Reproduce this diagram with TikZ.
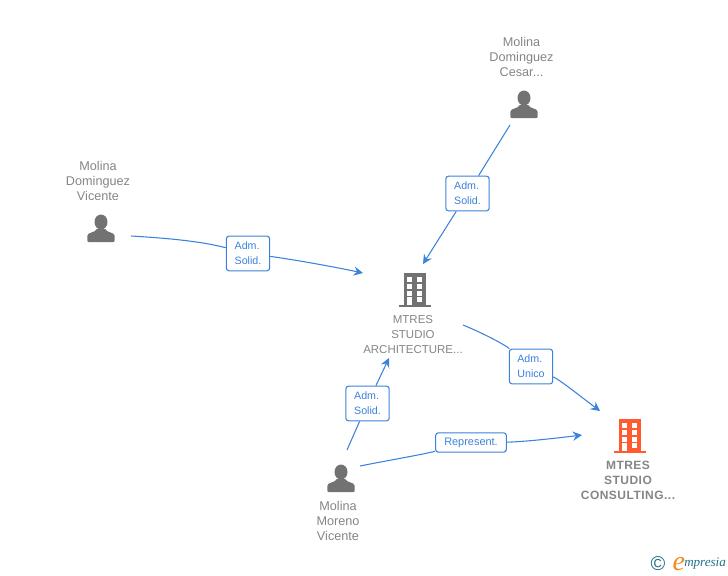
\documentclass[tikz,border=0pt]{standalone}
\usepackage{fontspec}
\setmainfont{Liberation Sans}
\newfontfamily\trackedfont[LetterSpace=4]{Liberation Sans}
\newfontfamily\logofont{Liberation Serif}
\usetikzlibrary{positioning,arrows.meta}
\definecolor{linkBlue}{HTML}{3B82DC}
\definecolor{labelGrey}{HTML}{858585}
\definecolor{iconGrey}{HTML}{727272}
\definecolor{mainOrange}{HTML}{FF5B2E}
\definecolor{logoTeal}{HTML}{1F6F86}
\definecolor{logoOrange}{HTML}{F28A1E}
\tikzset{
    nameLabel/.style={text=labelGrey, align=center, inner sep=0pt, font=\fontsize{9.5}{11.25}\selectfont},
    mainLabel/.style={text=labelGrey, align=center, inner sep=0pt, font=\trackedfont\bfseries\fontsize{9}{11.25}\selectfont},
    roleBox/.style={draw=linkBlue, fill=white, text=linkBlue, rounded corners=2pt, line width=0.8pt, align=left,
        inner sep=0pt, minimum height=26pt, minimum width=32.5pt, font=\fontsize{8}{11.25}\selectfont},
    wideBox/.style={roleBox, minimum height=14.5pt, minimum width=53pt},
    link/.style={draw=linkBlue, line width=0.8pt},
    linkArrow/.style={link, -{Stealth[length=7pt,width=7pt,inset=2.5pt]}},
    personIcon/.pic={
        \fill[iconGrey] (0,-6) ellipse [x radius=6.5, y radius=7.5];
        \fill[iconGrey] (-13.7,12) -- (-13.7,8) .. controls (-13.7,4) and (-6,5) .. (-4,1)
            -- (4,1) .. controls (6,5) and (13.7,4) .. (13.7,8) -- (13.7,12)
            .. controls (13.7,14) and (13,14) .. (12,14) -- (-12,14) .. controls (-13,14) and (-13.7,14) .. (-13.7,12) -- cycle;
    },
    buildingIcon/.pic={
        \path[pic actions] (-11,-17) rectangle (11,15);
        \path[pic actions] (-16,15) rectangle (16,17);
        \foreach \rowTop in {-13.3,-6,0.7,6.7} {
            \fill[white] (2.3,\rowTop) rectangle +(5,4.8);
        }
        \foreach \rowTop in {-13.3,-6,0.7} {
            \fill[white] (-7.7,\rowTop) rectangle +(5,4.8);
        }
        \fill[white] (-7.7,6.7) rectangle (-2.7,15);
    },
}

\begin{document}
\begin{tikzpicture}[x=0.75pt, y=-0.75pt]
    \useasboundingbox (0,0) rectangle (728,575);
    % companies
    \node[nameLabel, font=\fontsize{8.6}{11.25}\selectfont] (architectureName) at (413,335) {MTRES\\STUDIO\\ARCHITECTURE...};
    \node[mainLabel] (consultingName) at (628,480) {MTRES\\STUDIO\\CONSULTING...};
    \pic[fill=iconGrey] at (415,290) {buildingIcon};
    \pic[fill=mainOrange] at (630,436) {buildingIcon};
    % people
    \node[nameLabel] (vicenteName) at (98,181) {Molina\\Dominguez\\Vicente};
    \node[nameLabel] (cesarName) at (521.5,57) {Molina\\Dominguez\\Cesar...};
    \node[nameLabel] (morenoName) at (338,521) {Molina\\Moreno\\Vicente};
    \pic at (101,228) {personIcon};
    \pic at (524,104) {personIcon};
    \pic at (341,478) {personIcon};
    % free ends of the links
    \coordinate (vicenteOut) at (131,236);
    \coordinate (cesarOut) at (510,125);
    \coordinate (morenoUp) at (347,450);
    \coordinate (morenoRight) at (360,466);
    \coordinate (architectureOut) at (463,325);
    \coordinate (architectureLeft) at (363,273);
    \coordinate (architectureTop) at (423,264);
    \coordinate (architectureBottom) at (389,358);
    \coordinate (consultingTop) at (600,411);
    \coordinate (consultingLeft) at (582,435);
    % role boxes
    \node[roleBox] (vicenteRole) at (248,253.5) {Adm.\\Solid.};
    \node[roleBox] (cesarRole) at (467.5,193.5) {Adm.\\Solid.};
    \node[roleBox] (morenoRole) at (367.5,403.5) {Adm.\\Solid.};
    \node[roleBox] (architectureRole) at (531,366.5) {Adm.\\Unico};
    \node[wideBox, font=\fontsize{8.2}{11.25}\selectfont] (morenoRep) at (471,442.5) {Represent.};
    % links
    \draw[link] (vicenteOut) .. controls (165,238) and (200,241) .. (vicenteRole);
    \draw[linkArrow] (vicenteRole) .. controls (290,259) and (330,266) .. (architectureLeft);
    \draw[link] (cesarOut) -- (cesarRole);
    \draw[linkArrow] (cesarRole) -- (architectureTop);
    \draw[link] (morenoUp) -- (morenoRole);
    \draw[linkArrow] (morenoRole) -- (architectureBottom);
    \draw[link] (architectureOut) .. controls (485,334) and (505,345) .. (architectureRole);
    \draw[linkArrow] (architectureRole) .. controls (560,380) and (580,396) .. (consultingTop);
    \draw[link] (morenoRight) .. controls (390,460) and (420,455) .. (morenoRep);
    \draw[linkArrow] (morenoRep) .. controls (520,442) and (550,439) .. (consultingLeft);
    % logo
    \node[text=logoTeal, inner sep=0pt, font=\fontsize{15}{15}\selectfont] (logoMark) at (658,564) {\textcopyright};
    \node[text=logoTeal, anchor=west, inner sep=0pt, font=\logofont\itshape\fontsize{9.8}{12}\selectfont] (logoText) at (684,564) {mpresia};
    \node[text=logoOrange, inner sep=0pt, font=\logofont\itshape\fontsize{21}{21}\selectfont, left=-1pt of logoText] (logoInitial) {e};
\end{tikzpicture}
\end{document}
